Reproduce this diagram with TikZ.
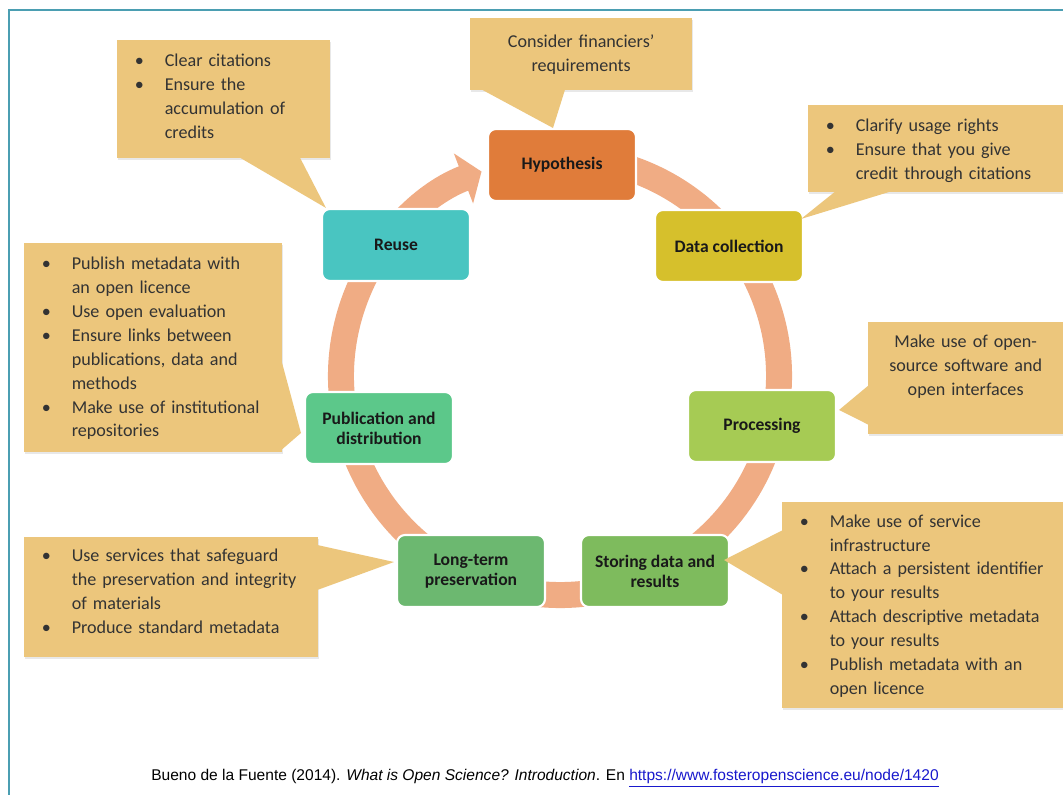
\documentclass[tikz,border=0pt]{standalone}
\usepackage{fontspec}
\setmainfont{Carlito}
\newfontfamily\capfont{Liberation Sans}
\usepackage{xcolor}
\usepackage{tikz}
\usetikzlibrary{calc,arrows.meta,shadows}

\definecolor{framecol}{RGB}{75,158,178}
\definecolor{ringcol}{RGB}{240,172,132}
\definecolor{notecol}{RGB}{236,198,124}
\definecolor{hypcol}{RGB}{224,124,58}
\definecolor{datcol}{RGB}{214,192,44}
\definecolor{proccol}{RGB}{166,203,84}
\definecolor{storcol}{RGB}{126,187,93}
\definecolor{longcol}{RGB}{108,184,112}
\definecolor{pubcol}{RGB}{92,200,138}
\definecolor{reusecol}{RGB}{73,197,193}
\definecolor{linkcol}{RGB}{25,25,205}

% one bullet line, later lines hang under the text
\newcommand{\bul}[1]{\par\hangindent=17pt\hangafter=1\noindent\makebox[17pt][l]{\textbullet}#1}
% push the text of a callout up by half the given amount
\newcommand{\lift}[1]{\par\nointerlineskip\vspace{#1}\null}

\begin{document}
\begin{tikzpicture}[
			x=0.02cm, y=-0.02cm,
			stage/.style={draw=white, line width=1.2pt, rounded corners=4.5pt, minimum width=2.96cm, minimum height=1.44cm, inner sep=2pt, align=center, font=\fontsize{10}{11.5}\selectfont\bfseries, text=black!90},
			callbox/.style={fill=notecol, anchor=north west, inner xsep=10pt, inner ysep=0pt, align=left, font=\fontsize{10.3}{13.6}\selectfont, text=black!80, drop shadow={shadow xshift=0.6pt, shadow yshift=-1.2pt, opacity=0.18}},
			calltail/.style={fill=notecol},
			ring/.style={draw=ringcol, line width=0.52cm, -{Triangle[width=30pt,length=11pt]}}
			]
			
			\useasboundingbox (0,0) rectangle (1063,795);
			\fill[white] (0,0) rectangle (1063,795);
			\draw[framecol, line width=1.2pt] (9,795) -- (9,10) -- (1063,10);
			
			% the cycle behind the stages
			\coordinate (hub) at (560,376);
			\draw[ring] ([shift={(-75:219)}]hub) arc[start angle=-75, end angle=249, radius=219];
			
			\node[stage, fill=hypcol] (hyp) at (562,165) {Hypothesis};
			\node[stage, fill=datcol] (data) at (729,246) {Data collection};
			\node[stage, fill=proccol] (proc) at (762,426) {Processing};
			\node[stage, fill=storcol] (store) at (655,571) {Storing data and\\results};
			\node[stage, fill=longcol] (long) at (471,571) {Long-term\\preservation};
			\node[stage, fill=pubcol] (pub) at (379,428) {Publication and\\distribution};
			\node[stage, fill=reusecol] (reuse) at (396,245) {Reuse};
			
			% callouts
			\node[callbox, text width=3.55cm, minimum height=2.36cm] (reusenote) at (117,40)
			{\bul{Clear citations}\bul{Ensure the\newline accumulation of\newline credits}\lift{10.2pt}};
			\node[callbox, text width=3.73cm, minimum height=1.44cm, align=center] (hypnote) at (470,18)
			{Consider financiers'\\requirements};
			\node[callbox, text width=4.39cm, minimum height=1.74cm] (datanote) at (808,105)
			{\bul{Clarify usage rights}\bul{Ensure that you give\newline credit through citations}\lift{4.5pt}};
			\node[callbox, text width=3.19cm, minimum height=2.24cm, align=center] (procnote) at (868,322)
			{Make use of open-\\source software and\\open interfaces\lift{13.6pt}};
			\node[callbox, text width=4.91cm, minimum height=4.12cm] (storenote) at (782,502)
			{\bul{Make use of service\newline infrastructure}\bul{Attach a persistent identifier\newline to your results}\bul{Attach descriptive metadata\newline to your results}\bul{Publish metadata with an\newline open licence}\lift{5.7pt}};
			\node[callbox, text width=4.45cm, minimum height=4.18cm] (pubnote) at (24,243)
			{\bul{Publish metadata with\newline an open licence}\bul{Use open evaluation}\bul{Ensure links between\newline publications, data and\newline methods}\bul{Make use of institutional\newline repositories}\lift{5.7pt}};
			\node[callbox, text width=5.17cm, minimum height=2.40cm] (longnote) at (24,537)
			{\bul{Use services that safeguard\newline the preservation and integrity\newline of materials}\bul{Produce standard metadata}\lift{13.6pt}};
			
			% callout pointers
			\fill[calltail] ($(reusenote.south west)+(123,-1)$) -- ($(reuse.north west)+(5,0)$) -- ($(reusenote.south west)+(183,-1)$) -- cycle;
			\fill[calltail] ($(hypnote.south west)+(12,-1)$) -- ($(hyp.north)+(-9,0)$) -- ($(hypnote.south west)+(95,-1)$) -- cycle;
			\fill[calltail] ($(datanote.south west)+(27,-1)$) -- ($(data.north east)+(-3,10)$) -- ($(datanote.south west)+(82,-1)$) -- cycle;
			\fill[calltail] ($(procnote.north west)+(1,63)$) -- ($(proc.east)+(2,-16)$) -- ($(procnote.north west)+(1,103)$) -- cycle;
			\fill[calltail] ($(storenote.north west)+(1,28)$) -- ($(store.east)+(-6,-11)$) -- ($(storenote.north west)+(1,93)$) -- cycle;
			\fill[calltail] ($(pubnote.north east)+(-1,117)$) -- ($(pub.west)+(-3,5)$) -- ($(pubnote.north east)+(-1,207)$) -- cycle;
			\fill[calltail] ($(longnote.north east)+(-1,8)$) -- ($(long.west)+(-2,-9)$) -- ($(longnote.north east)+(-1,53)$) -- cycle;
			
			\node[font=\capfont\fontsize{8.85}{10}\selectfont] (cite) at (545,778)
			{Bueno de la Fuente (2014). \textit{What is Open Science? Introduction}. En \textcolor{linkcol}{\underline{https://www.fosteropenscience.eu/node/1420}}};
		\end{tikzpicture}
\end{document}
